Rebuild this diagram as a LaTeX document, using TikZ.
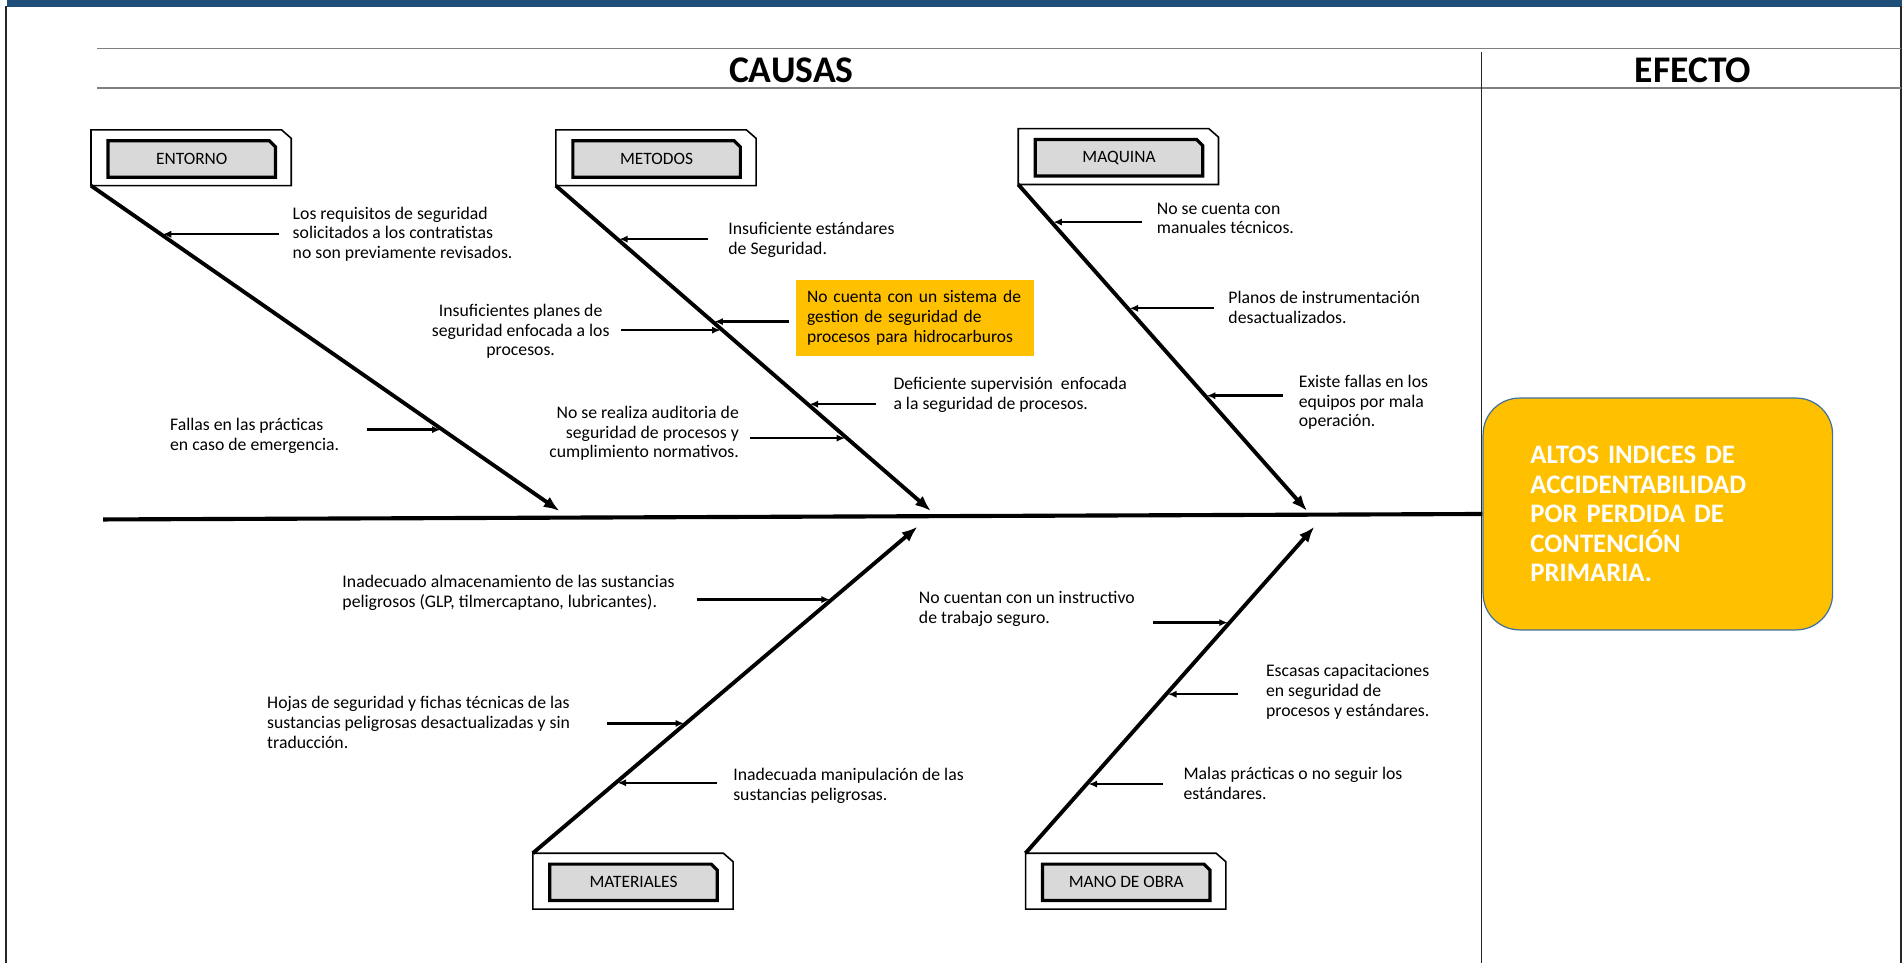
\documentclass[tikz,border=0pt]{standalone}
\usepackage{fontspec}
\setmainfont{Carlito}
\usetikzlibrary{arrows.meta,calc}
\definecolor{topblue}{HTML}{1F4E79}
\definecolor{gold}{HTML}{FFC000}
\definecolor{boxgray}{HTML}{D9D9D9}
\definecolor{edgeblue}{HTML}{41719C}
\tikzset{
  bone/.style={line width=3.2pt, -{Latex[length=13pt,width=10pt]}},
  spine/.style={line width=3.4pt},
  cause/.style={line width=2pt, -{Latex[length=7pt,width=6pt]}, shorten >=1.5pt},
  txt/.style={inner sep=0pt, align=left, font=\fontsize{14.6}{16.3}\selectfont},
  catlbl/.style={inner sep=0pt, font=\fontsize{14.3}{16}\selectfont},
  head/.style={inner sep=0pt, font=\fontsize{31}{36}\selectfont\bfseries},
  outerbox/.style={line width=1.3pt, draw=black, fill=white},
  innerbox/.style={line width=2.6pt, draw=black, fill=boxgray},
  hdrline/.style={draw=black!50, line width=1.3pt},
}
\newcommand{\catbox}[4]{% name, x, y, label
  \path[outerbox] (#2,#3) -- (#2+157,#3) -- (#2+165,#3+7) -- (#2+165,#3+46) -- (#2,#3+46) -- cycle;
  \path[innerbox] (#2+14,#3+9) -- (#2+147,#3+9) -- (#2+152,#3+14) -- (#2+152,#3+39) -- (#2+14,#3+39) -- cycle;
  \node[catlbl] (#1) at (#2+83,#3+24) {#4};
}
\newcommand{\causearrow}[7]{% name, bone0, bone1, y0, y1, tailx, y
  \pgfmathsetmacro{\bonefrac}{(#7-#4)/(#5-#4)}
  \coordinate (#1h) at ($(#2)!\bonefrac!(#3)$);
  \coordinate (#1t) at (#6,#7);
  \draw[cause] (#1t) -- (#1t -| #1h);
}
\begin{document}
\begin{tikzpicture}[x=1pt,y=-1pt]
\useasboundingbox[fill=white] (0,0) rectangle (1568,793.5);
% frame
\fill[topblue] (6,0) rectangle (1567,5.5);
\draw[line width=1.8pt, black!85] (5,5) -- (5,793.5);
\draw[line width=1.8pt, black!85] (1566,5) -- (1566,793.5);
% header
\draw[hdrline] (80,40) -- (1566,40);
\draw[hdrline] (80,72.5) -- (1566,72.5);
\draw[black!85, line width=0.9pt] (1221,43) -- (1221,793.5);
\node[head] (causas) at (652,58) {CAUSAS};
\node[head] (efecto) at (1395,58) {EFECTO};
% effect box
\node[draw=edgeblue, line width=1pt, fill=gold, rounded corners=30pt,
      minimum width=288pt, minimum height=191pt, text width=210pt, inner xsep=39pt,
      align=left, text=white, font=\fontsize{22}{24.4}\selectfont\bfseries]
      (eff) at (1366,423.5) {ALTOS INDICES DE\\ACCIDENTABILIDAD\\POR PERDIDA DE\\CONTENCIÓN\\PRIMARIA.};
% category boxes
\catbox{entorno}{75}{107}{ENTORNO}
\catbox{metodos}{458}{107}{METODOS}
\catbox{maquina}{839}{106}{MAQUINA}
\catbox{materiales}{439}{703}{MATERIALES}
\catbox{manobra}{845}{703}{MANO DE OBRA}
% bones
\coordinate (E0) at (75,153);  \coordinate (E1) at (461,421);
\coordinate (M0) at (458,153); \coordinate (M1) at (767,421);
\coordinate (Q0) at (839,152); \coordinate (Q1) at (1077,421);
\coordinate (T0) at (439,703); \coordinate (T1) at (756,434);
\coordinate (O0) at (845,703); \coordinate (O1) at (1083,434);
\draw[spine] (85,428) -- (eff.west);
\draw[bone] (E0) -- (E1);
\draw[bone] (M0) -- (M1);
\draw[bone] (Q0) -- (Q1);
\draw[bone] (T0) -- (T1);
\draw[bone] (O0) -- (O1);
% cause texts
\node[txt, anchor=west] (t1) at (241,193) {Los requisitos de seguridad\\solicitados a los contratistas\\no son previamente revisados.};
\node[txt, anchor=west] (t2) at (600,197.5) {Insuficiente estándares\\de Seguridad.};
\node[txt, anchor=west] (t3) at (953,180) {No se cuenta con\\manuales técnicos.};
\node[txt, anchor=center, align=center] (t4) at (429,273) {Insuficientes planes de\\seguridad enfocada a los\\procesos.};
\node[fill=gold, minimum width=196pt, minimum height=62pt, text width=178pt, inner xsep=9pt,
      align=left, font=\fontsize{14.4}{16.3}\selectfont] (t5) at (754,262) {No cuenta con un sistema de\\gestion de seguridad de\\procesos para hidrocarburos};
\node[txt, anchor=west] (t6) at (1012,253) {Planos de instrumentación\\desactualizados.};
\node[txt, anchor=west] (t7) at (736,325.5) {Deficiente supervisión\ \ enfocada\\a la seguridad de procesos.};
\node[txt, anchor=west] (t8) at (1070,331.5) {Existe fallas en los\\equipos por mala\\operación.};
\node[txt, anchor=west] (t9) at (140,359) {Fallas en las prácticas\\en caso de emergencia.};
\node[txt, anchor=east, align=right] (t10) at (609,357) {No se realiza auditoria de\\seguridad de procesos y\\cumplimiento normativos.};
\node[txt, anchor=west] (t11) at (282,488.5) {Inadecuado almacenamiento de las sustancias\\peligrosos (GLP, tilmercaptano, lubricantes).};
\node[txt, anchor=west] (t12) at (757,501.5) {No cuentan con un instructivo\\de trabajo seguro.};
\node[txt, anchor=west] (t13) at (220,595) {Hojas de seguridad y fichas técnicas de las\\sustancias peligrosas desactualizadas y sin\\traducción.};
\node[txt, anchor=west] (t14) at (1043,570) {Escasas capacitaciones\\en seguridad de\\procesos y estándares.};
\node[txt, anchor=west] (t15) at (604,647.5) {Inadecuada manipulación de las\\sustancias peligrosas.};
\node[txt, anchor=west] (t16) at (975,645.5) {Malas prácticas o no seguir los\\estándares.};
% cause arrows
\causearrow{a1}{E0}{E1}{153}{421}{230}{193}
\causearrow{a9}{E0}{E1}{153}{421}{302}{354}
\causearrow{a2}{M0}{M1}{153}{421}{583}{197}
\causearrow{a4}{M0}{M1}{153}{421}{512}{272}
\coordinate (a5t) at ($(t5.west)+(-6,3)$);
\coordinate (a5h) at ($(M0)!{(265-153)/268}!(M1)$);
\draw[cause] (a5t) -- (a5t -| a5h);
\causearrow{a7}{M0}{M1}{153}{421}{722}{333}
\causearrow{a10}{M0}{M1}{153}{421}{618}{361}
\causearrow{a3}{Q0}{Q1}{152}{421}{941}{183}
\causearrow{a6}{Q0}{Q1}{152}{421}{1000}{254}
\causearrow{a8}{Q0}{Q1}{152}{421}{1057}{326}
\causearrow{a11}{T0}{T1}{703}{434}{574}{494}
\causearrow{a13}{T0}{T1}{703}{434}{500}{596}
\causearrow{a15}{T0}{T1}{703}{434}{591}{645}
\causearrow{a12}{O0}{O1}{703}{434}{950}{513}
\causearrow{a14}{O0}{O1}{703}{434}{1020}{572}
\causearrow{a16}{O0}{O1}{703}{434}{958}{646}
\end{tikzpicture}
\end{document}
